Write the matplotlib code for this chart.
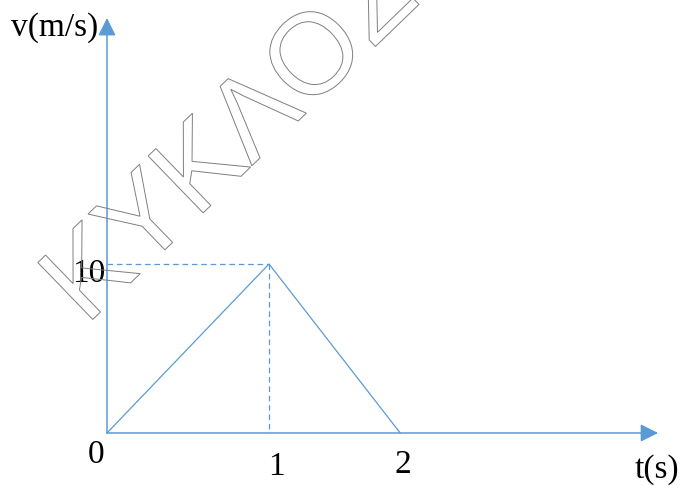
"""Velocity-time sketch: triangular v(t) profile with dashed guides to the peak."""

import matplotlib.pyplot as plt
import numpy as np
from matplotlib.font_manager import FontProperties
from matplotlib.patches import PathPatch
from matplotlib.textpath import TextPath
from matplotlib.transforms import Affine2D

# data
time_s = [0, 1, 2]
velocity = [0, 10, 0]
x_tick_values = [1, 2]
x_tick_labels = ["1", "2"]
y_tick_values = [10]
y_tick_labels = ["10"]
origin_label = "0"
x_label = "t(s)"
y_label = "v(m/s)"
watermark = "KYKΛOΣ"

# layout (pixels on a 682x486 canvas, origin bottom-left)
W, H, DPI = 682, 486, 100
ORIGIN_PX = (107, 53)
PX_PER_T = 162
PX_PER_V = 16.9
SQUEEZE = 0.81  # the sketch draws the second second shorter than the first

BLUE = "#5B9BD5"
SERIF = "Liberation Serif"


def forward(t):
    t = np.asarray(t, dtype=float)
    return np.where(t <= 1, t, 1 + (t - 1) * SQUEEZE)


def inverse(u):
    u = np.asarray(u, dtype=float)
    return np.where(u <= 1, u, 1 + (u - 1) / SQUEEZE)


fig = plt.figure(figsize=(W / DPI, H / DPI), dpi=DPI)
ax = fig.add_axes([0, 0, 1, 1])
ax.set_xscale("function", functions=(forward, inverse))
ax.set_xlim(float(inverse(-ORIGIN_PX[0] / PX_PER_T)),
            float(inverse((W - ORIGIN_PX[0]) / PX_PER_T)))
ax.set_ylim(-ORIGIN_PX[1] / PX_PER_V, (H - ORIGIN_PX[1]) / PX_PER_V)
ax.axis("off")

# axes drawn as arrows
arrow = dict(arrowstyle="-|>,head_length=1.0,head_width=0.5", color=BLUE,
             lw=1.1, mutation_scale=10.8, shrinkA=0, shrinkB=0)
ax.annotate("", xy=(0.965, 0), xycoords=("axes fraction", "data"),
            xytext=(0, 0), textcoords="data", arrowprops=arrow)
ax.annotate("", xy=(0, 0.963), xycoords=("data", "axes fraction"),
            xytext=(0, 0), textcoords="data", arrowprops=arrow)

# v(t) and dashed guides to the peak
ax.plot(time_s, velocity, color=BLUE, lw=0.9, solid_joinstyle="miter")
i_peak = int(np.argmax(velocity))
t_peak, v_peak = time_s[i_peak], velocity[i_peak]
dash = dict(color=BLUE, lw=0.9, linestyle=(0, (4.5, 3)))
ax.plot([0, t_peak], [v_peak, v_peak], **dash)
ax.plot([t_peak, t_peak], [v_peak, 0], **dash)

# labels
txt = dict(fontsize=24, family=SERIF, ha="center", va="baseline",
           textcoords="offset points")
ax.annotate(origin_label, xy=(0, 0), xytext=(-7.9, -21.6), **txt)
for t, lab, off in zip(x_tick_values, x_tick_labels, [(5.0, -30.2), (2.2, -28.8)]):
    ax.annotate(lab, xy=(t, 0), xytext=off, **txt)
for v, lab in zip(y_tick_values, y_tick_labels):
    ax.annotate(lab, xy=(0, v), xytext=(-13, -13), **txt)
ax.text(55 / W, (H - 36) / H, y_label, transform=ax.transAxes, fontsize=24,
        family=SERIF, ha="center", va="baseline")
ax.text(657 / W, (H - 478) / H, x_label, transform=ax.transAxes, fontsize=24,
        family=SERIF, ha="center", va="baseline")

# outlined watermark
tp = TextPath((0, 0), watermark, size=115,
              prop=FontProperties(family="Liberation Sans"))
wm_tr = Affine2D().rotate_deg(44).translate(86, 160).scale(1 / DPI) + fig.dpi_scale_trans
fig.add_artist(PathPatch(tp, facecolor="none", edgecolor="#7f7f7f", lw=0.7,
                         transform=wm_tr))

fig.savefig("out.png", dpi=DPI)
